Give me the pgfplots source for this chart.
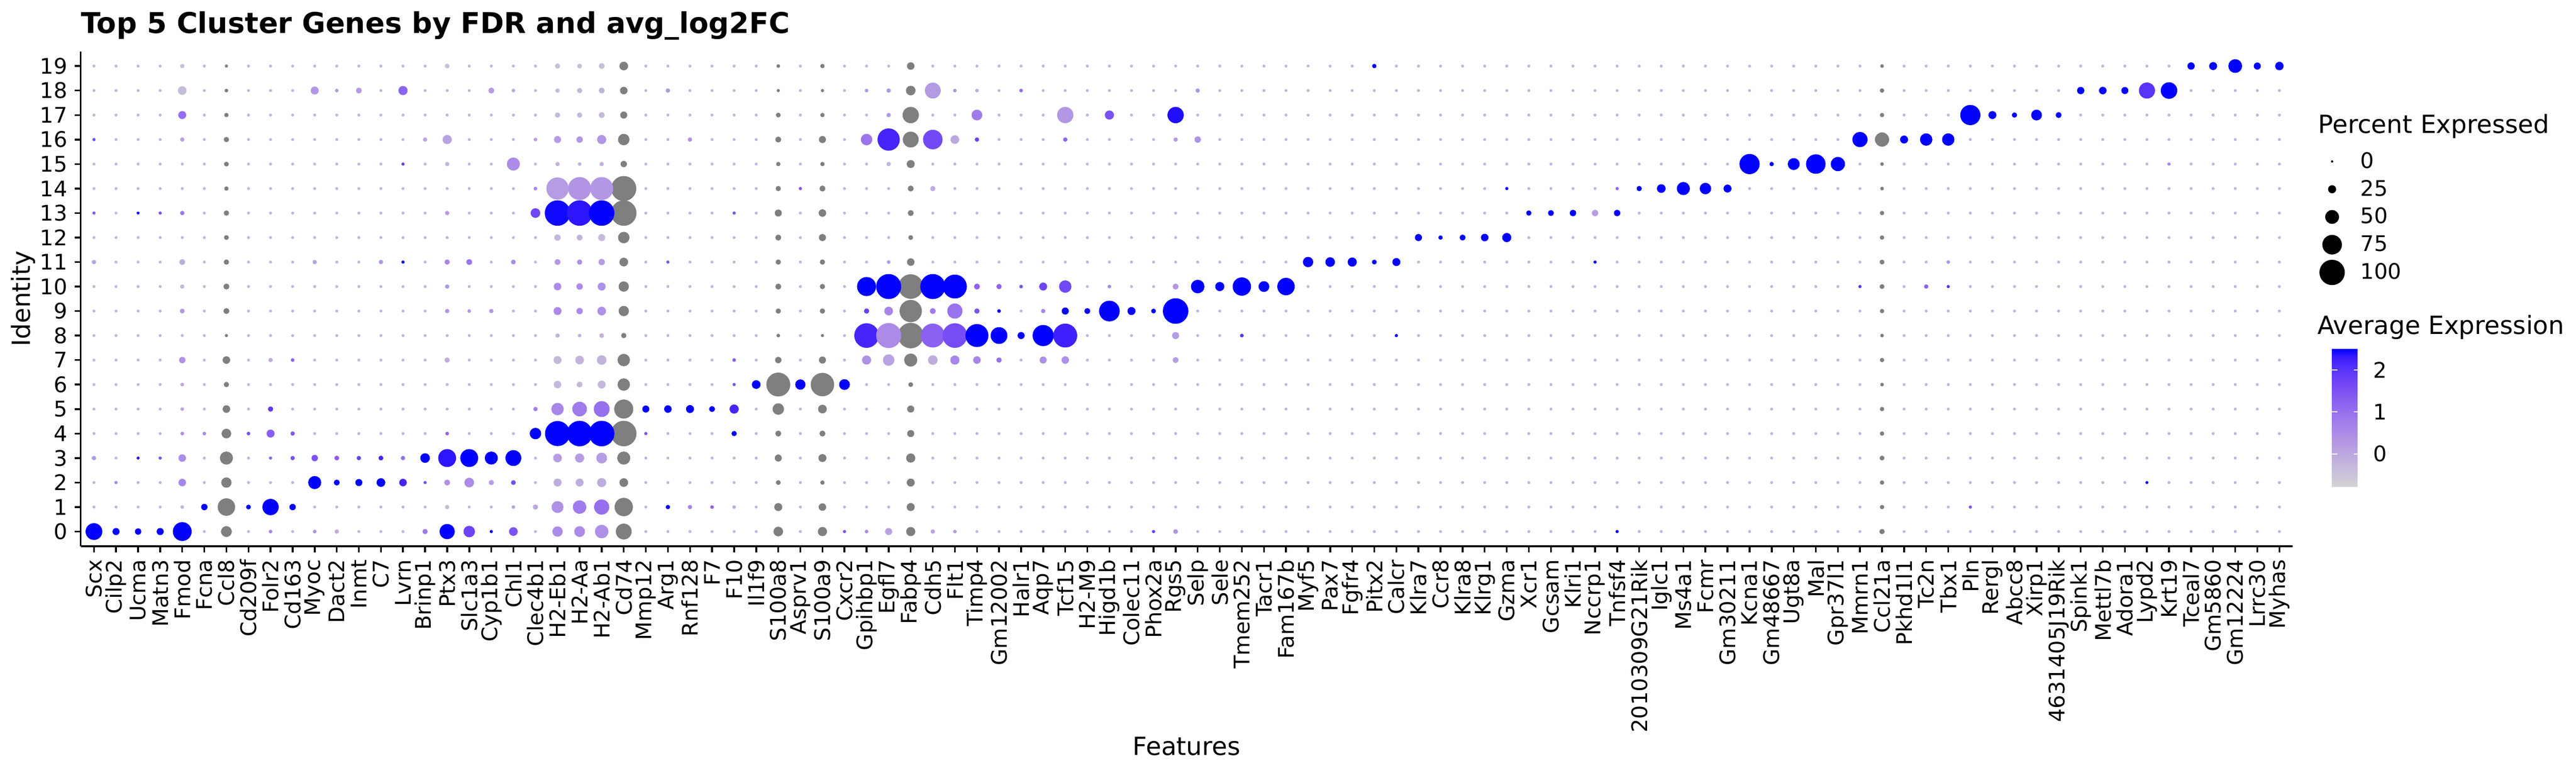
\documentclass[border=0pt]{standalone}
\usepackage{fontspec}
\setmainfont{DejaVu Sans}
\usepackage{pgfplots}
\usepackage{pgfplotstable}
\pgfplotsset{compat=1.18}
\pgfplotsset{/pgf/number format/assume math mode=true}

\definecolor{grey50}{RGB}{127,127,127}
\definecolor{bgdot}{RGB}{195,180,222}

\newcommand{\tickfont}{\fontsize{12bp}{14bp}\selectfont}
\newcommand{\labfont}{\fontsize{14bp}{17bp}\selectfont}

% gene positions on the x axis, with ~0 % expressed as the background level
\pgfplotstableread[row sep=\\]{g p\\1 0\\2 0\\3 0\\4 0\\5 0\\6 0\\7 0\\8 0\\9 0\\10 0\\11 0\\12 0\\13 0\\14 0\\15 0\\16 0\\17 0\\18 0\\19 0\\20 0\\21 0\\22 0\\23 0\\24 0\\25 0\\26 0\\27 0\\28 0\\29 0\\30 0\\31 0\\32 0\\33 0\\34 0\\35 0\\36 0\\37 0\\38 0\\39 0\\40 0\\41 0\\42 0\\43 0\\44 0\\45 0\\46 0\\47 0\\48 0\\49 0\\50 0\\51 0\\52 0\\53 0\\54 0\\55 0\\56 0\\57 0\\58 0\\59 0\\60 0\\61 0\\62 0\\63 0\\64 0\\65 0\\66 0\\67 0\\68 0\\69 0\\70 0\\71 0\\72 0\\73 0\\74 0\\75 0\\76 0\\77 0\\78 0\\79 0\\80 0\\81 0\\82 0\\83 0\\84 0\\85 0\\86 0\\87 0\\88 0\\89 0\\90 0\\91 0\\92 0\\93 0\\94 0\\95 0\\96 0\\97 0\\98 0\\99 0\\100 0\\}\genetab

% gene, cluster, percent expressed, average expression (scaled)
\pgfplotstableread{
g c p e
1 0 61 2.5
1 3 7 0.3
1 11 7 0.1
1 13 2 1.4
1 16 2 1.6
2 0 19 2.5
2 2 2 0.6
3 0 16 2.5
3 3 1 2.4
3 13 1 2.4
4 0 19 2.5
4 3 2 1.5
4 13 2 1.5
5 0 70 2.5
5 1 4 -0.2
5 2 21 0.6
5 3 21 0.45
5 4 4 0.5
5 5 4 0.0
5 6 4 0.0
5 7 16 0.4
5 9 9 0.3
5 10 7 -0.3
5 11 14 -0.1
5 13 7 0.9
5 16 7 0.1
5 17 23 1.0
5 18 26 -0.35
5 19 7 -0.4
6 1 16 2.5
6 4 4 0.5
8 1 9 2.5
8 4 4 1.5
9 0 4 0.6
9 1 59 2.5
9 3 2 1.2
9 4 23 1.3
9 5 11 1.9
9 7 7 -0.1
10 1 16 2.5
10 3 7 1.5
10 4 7 1.4
10 7 4 1.2
11 0 4 0.4
11 2 45 2.5
11 3 16 1.5
11 11 7 0.1
11 18 23 0.3
12 0 7 -0.1
12 2 14 2.5
12 3 9 1.3
12 18 4 0.2
13 2 19 2.5
13 3 7 1.8
13 18 14 0.2
14 2 26 2.5
14 3 9 2.2
14 11 7 0.3
15 2 21 2.2
15 3 7 1.0
15 11 2 2.5
15 15 2 1.8
15 18 28 1.2
16 0 11 0.8
16 2 2 1.5
16 3 30 2.5
16 16 7 0.0
17 0 54 2.5
17 1 7 -0.3
17 2 14 0.4
17 3 66 2.35
17 4 4 1.2
17 7 11 -0.1
17 9 7 0.3
17 10 7 0.3
17 11 11 0.6
17 13 7 0.2
17 15 7 -0.2
17 16 28 0.1
17 19 9 -0.4
18 0 38 1.75
18 2 30 0.5
18 3 66 2.5
18 9 4 0.3
18 11 14 0.9
19 0 2 2.5
19 2 11 0.2
19 3 45 2.5
19 9 7 0.3
19 18 14 0.2
20 0 26 1.5
20 1 4 0.0
20 2 9 1.6
20 3 57 2.5
20 11 9 0.5
20 15 45 0.5
20 18 4 0.0
21 1 11 0.0
21 4 38 2.5
21 5 7 0.8
21 13 30 1.7
21 14 4 0.6
21 16 4 0.2
22 0 33 0.5
22 1 40 0.4
22 2 23 -0.1
22 3 26 0.2
22 4 97 2.5
22 5 42 0.6
22 6 21 -0.3
22 7 23 -0.3
22 8 7 -0.2
22 9 23 0.5
22 10 21 0.5
22 11 14 0.3
22 12 16 -0.3
22 13 99 2.45
22 14 85 0.2
22 15 7 -0.2
22 16 19 0.2
22 17 11 -0.3
22 18 7 -0.3
22 19 11 -0.4
23 0 35 0.5
23 1 47 0.8
23 2 23 -0.1
23 3 28 0.2
23 4 99 2.5
23 5 52 0.8
23 6 14 -0.3
23 7 26 -0.2
23 8 4 -0.2
23 9 16 0.5
23 10 16 0.5
23 11 11 0.4
23 12 14 -0.2
23 13 99 2.35
23 14 88 0.35
23 15 4 -0.2
23 16 16 0.3
23 17 11 -0.3
23 18 11 -0.3
23 19 9 -0.4
24 0 47 0.4
24 1 54 1.0
24 2 28 -0.1
24 3 35 0.2
24 4 99 2.5
24 5 57 1.0
24 6 23 -0.3
24 7 30 -0.2
24 8 9 -0.2
24 9 26 0.4
24 10 23 0.4
24 11 16 0.2
24 12 19 -0.3
24 13 99 2.5
24 14 88 0.3
24 15 7 -0.2
24 16 28 0.3
24 17 14 -0.3
24 18 14 -0.2
24 19 14 -0.4
26 4 2 1.5
26 5 19 2.5
27 1 7 2.5
27 5 21 2.5
27 11 2 1.5
27 18 7 0.3
28 1 7 0.6
28 5 23 2.5
28 16 7 0.4
29 1 4 1.2
29 5 14 2.5
30 1 4 -0.1
30 4 11 2.5
30 5 28 2.2
30 6 2 1.5
30 7 4 1.3
30 13 2 1.5
31 6 26 2.5
33 6 33 2.5
33 14 2 1.5
35 0 2 1.5
35 6 35 2.5
36 0 4 0.5
36 7 28 0.4
36 8 95 2.2
36 9 11 1.8
36 10 71 2.5
36 16 38 0.9
36 18 4 0.3
37 0 19 0.1
37 7 38 0.1
37 8 97 0.5
37 9 26 0.6
37 10 97 2.5
37 11 4 0.3
37 15 7 -0.2
37 16 85 2.2
37 17 7 0.3
37 18 7 0.3
39 0 7 0.1
39 7 30 -0.1
39 8 92 1.25
39 9 14 0.8
39 10 97 2.5
39 14 11 -0.1
39 16 73 1.65
39 18 57 0.25
40 0 4 0.2
40 7 28 0.6
40 8 95 1.6
40 9 54 0.95
40 10 92 2.5
40 16 26 0.0
40 18 4 0.3
41 7 21 0.6
41 8 88 2.5
41 9 11 1.5
41 10 14 1.2
41 16 7 1.8
41 17 35 0.8
41 18 4 -0.1
42 7 11 1.0
42 8 61 2.5
42 9 4 2.5
42 10 11 1.2
43 8 19 2.5
43 10 4 1.5
43 18 4 1.0
44 7 19 0.4
44 8 80 2.5
44 9 7 0.6
44 10 23 1.7
45 7 21 0.4
45 8 92 2.25
45 9 19 2.5
45 10 42 1.65
45 16 7 1.2
45 17 59 0.3
46 9 14 2.5
47 9 78 2.5
47 10 4 0.5
47 17 28 1.5
48 9 23 2.5
49 0 2 1.8
49 9 9 2.5
50 0 9 0.3
50 7 14 0.2
50 8 19 0.2
50 9 99 2.5
50 10 14 0.3
50 16 7 0.2
50 17 59 2.4
51 10 47 2.5
51 16 16 0.4
51 18 7 0.3
52 10 28 2.5
53 8 4 2.0
53 10 68 2.5
54 10 35 2.5
55 10 64 2.5
56 11 33 2.5
57 11 30 2.5
58 11 28 2.5
59 11 9 2.5
59 19 7 2.5
60 8 2 2.5
60 11 23 2.5
61 12 19 2.5
62 12 7 2.5
63 12 14 2.5
64 12 21 2.5
65 12 28 2.5
65 14 2 2.5
66 13 11 2.5
67 13 14 2.5
68 13 16 2.5
69 11 2 2.5
69 13 16 0.15
70 0 2 2.5
70 13 16 2.5
70 14 2 1.2
71 14 11 2.5
72 14 26 2.5
73 14 45 2.5
74 14 38 2.5
75 14 23 2.5
76 15 76 2.5
77 15 7 2.5
78 15 40 2.5
79 15 73 2.5
80 15 50 2.5
81 10 2 2.0
81 16 54 2.5
83 16 23 2.5
84 10 7 1.2
84 16 42 2.5
85 10 2 2.0
85 11 4 0.3
85 16 42 2.5
86 1 2 1.5
86 17 76 2.5
87 17 23 2.5
88 17 11 2.5
89 17 35 2.5
90 17 14 2.5
91 18 20 2.5
92 18 21 2.5
93 18 19 2.5
94 2 1 2.5
94 18 58 2.0
95 15 2 0.6
95 18 60 2.5
96 19 20 2.5
97 19 23 2.5
98 19 48 2.5
99 19 19 2.5
100 19 25 2.5
}\dottab

% dots drawn in grey (outside the colour scale)
\pgfplotstableread{
g c p
7 0 35
7 1 64
7 2 33
7 3 45
7 4 30
7 5 21
7 6 11
7 7 21
7 8 2
7 9 14
7 10 14
7 11 11
7 12 9
7 13 11
7 14 7
7 15 9
7 16 11
7 17 7
7 18 4
7 19 2
25 0 57
25 1 68
25 2 26
25 3 45
25 4 99
25 5 71
25 6 42
25 7 42
25 8 11
25 9 33
25 10 33
25 11 26
25 12 38
25 13 99
25 14 97
25 15 16
25 16 38
25 17 19
25 18 21
25 19 26
32 0 30
32 1 23
32 2 9
32 3 19
32 4 14
32 5 38
32 6 92
32 7 16
32 8 4
32 9 11
32 10 14
32 11 11
32 12 14
32 13 19
32 14 11
32 15 7
32 16 14
32 17 9
32 18 2
32 19 4
34 0 28
34 1 21
34 2 7
34 3 23
34 4 14
34 5 26
34 6 90
34 7 19
34 8 2
34 9 11
34 10 11
34 11 11
34 12 19
34 13 21
34 14 14
34 15 7
34 16 19
34 17 7
34 18 2
34 19 7
38 0 28
38 1 23
38 2 23
38 3 28
38 4 19
38 5 19
38 6 9
38 7 45
38 8 99
38 9 85
38 10 95
38 11 21
38 12 9
38 13 14
38 14 14
38 15 23
38 16 57
38 17 59
38 18 30
38 19 21
82 0 11
82 1 7
82 2 7
82 3 9
82 4 7
82 5 7
82 6 4
82 7 7
82 8 4
82 9 7
82 10 9
82 11 9
82 12 7
82 13 7
82 14 4
82 15 4
82 16 50
82 17 7
82 18 7
82 19 4
}\greytab

\begin{document}
\begin{tikzpicture}
\path[use as bounding box] (-45.12bp,-126.72bp) rectangle (1394.88bp,305.28bp);
\begin{axis}[
  name=ax, at={(0,0)}, anchor=south west,
  scale only axis, width=1236.48bp, height=276.58bp,
  xmin=0.4, xmax=100.6, ymin=-0.6, ymax=19.6,
  axis lines*=left,
  axis line style={line width=1bp, black},
  tick align=outside, major tick length=3.4bp,
  tick style={line width=1bp, black},
  xtick={1,...,100}, ytick={0,...,19},
  xticklabels={Scx,Cilp2,Ucma,Matn3,Fmod,Fcna,Ccl8,Cd209f,Folr2,Cd163,
    Myoc,Dact2,Inmt,C7,Lvrn,Brinp1,Ptx3,Slc1a3,Cyp1b1,Chl1,
    Clec4b1,H2-Eb1,H2-Aa,H2-Ab1,Cd74,Mmp12,Arg1,Rnf128,F7,F10,
    Il1f9,S100a8,Asprv1,S100a9,Cxcr2,Gpihbp1,Egfl7,Fabp4,Cdh5,Flt1,
    Timp4,Gm12002,Halr1,Aqp7,Tcf15,H2-M9,Higd1b,Colec11,Phox2a,Rgs5,
    Selp,Sele,Tmem252,Tacr1,Fam167b,Myf5,Pax7,Fgfr4,Pitx2,Calcr,
    Klra7,Ccr8,Klra8,Klrg1,Gzma,Xcr1,Gcsam,Klri1,Nccrp1,Tnfsf4,
    2010309G21Rik,Iglc1,Ms4a1,Fcmr,Gm30211,Kcna1,Gm48667,Ugt8a,Mal,Gpr37l1,
    Mmrn1,Ccl21a,Pkhd1l1,Tc2n,Tbx1,Pln,Rergl,Abcc8,Xirp1,4631405J19Rik,
    Spink1,Mettl7b,Adora1,Lypd2,Krt19,Tceal7,Gm5860,Gm12224,Lrrc30,Myhas},
  xticklabel style={rotate=90, anchor=east, inner sep=0pt, font=\tickfont},
  yticklabel style={anchor=east, inner sep=0pt, font=\tickfont},
  xticklabel shift=3.9bp, yticklabel shift=3.9bp,
  title={Top 5 Cluster Genes by FDR and avg\_log2FC},
  every axis title shift=0pt,
  title style={at={(0,1)}, anchor=base west, yshift=10.2bp, inner sep=0pt,
    font=\bfseries\fontsize{16bp}{19bp}\selectfont},
  xlabel={Features},
  xlabel style={at={(axis description cs:0.5,0)}, anchor=base, yshift=-116.64bp,
    inner sep=0pt, font=\labfont},
  ylabel={Identity},
  ylabel style={at={(axis description cs:0,0.5)}, anchor=center, yshift=32.26bp,
    inner sep=0pt, font=\labfont},
  clip=false,
  colormap={dotmap}{rgb255(0cm)=(211,211,211) rgb255(2cm)=(200,188,218)
    rgb255(4cm)=(187,165,224) rgb255(6cm)=(173,142,230) rgb255(8cm)=(157,119,236)
    rgb255(10cm)=(137,96,241) rgb255(12cm)=(113,71,245) rgb255(14cm)=(82,45,251)
    rgb255(15cm)=(58,28,253) rgb255(16cm)=(0,0,255)},
  point meta min=-0.78, point meta max=2.51,
  colorbar,
  colorbar style={
    at={(parent axis.north east)}, anchor=north west,
    xshift=13.44bp, yshift=-166.06bp,
    scale only axis, width=15.4bp, height=77.2bp,
    ytick={0,1,2},
    tick align=inside, major tick length=3.1bp,
    ytick pos=both, yticklabel pos=right,
    tick style={white, line width=0.6bp},
    axis line style={draw=none},
    yticklabel style={anchor=west, inner sep=0pt, font=\tickfont},
    yticklabel shift=7.44bp,
  },
  legend cell align=left,
  legend style={at={(1,1)}, anchor=north west, xshift=14.08bp, yshift=-53.8bp,
    draw=none, fill=none, inner sep=0pt, outer sep=0pt,
    column sep=7.84bp, row sep=0pt,
    nodes={inner sep=0pt, font=\tickfont}},
]
\addlegendimage{legend image code/.code={\path[draw=none,fill=none] (-8bp,-7.75bp) rectangle (8bp,7.75bp);\fill[black,draw=none] (0,0) circle[radius=0.648bp];}}
\addlegendentry{0}
\addlegendimage{legend image code/.code={\path[draw=none,fill=none] (-8bp,-7.75bp) rectangle (8bp,7.75bp);\fill[black,draw=none] (0,0) circle[radius=2.26bp];}}
\addlegendentry{25}
\addlegendimage{legend image code/.code={\path[draw=none,fill=none] (-8bp,-7.75bp) rectangle (8bp,7.75bp);\fill[black,draw=none] (0,0) circle[radius=3.87bp];}}
\addlegendentry{50}
\addlegendimage{legend image code/.code={\path[draw=none,fill=none] (-8bp,-7.75bp) rectangle (8bp,7.75bp);\fill[black,draw=none] (0,0) circle[radius=5.48bp];}}
\addlegendentry{75}
\addlegendimage{legend image code/.code={\path[draw=none,fill=none] (-8bp,-7.75bp) rectangle (8bp,7.75bp);\fill[black,draw=none] (0,0) circle[radius=7.09bp];}}
\addlegendentry{100}

% faint dots at every gene / cluster pair (about 0 % expressed)
\pgfplotsinvokeforeach{0,...,19}{
  \addplot[only marks, mark=*, mark size=0.62bp, color=bgdot, forget plot]
    table[x=g, y expr=#1] {\genetab};
}

% grey dots
\addplot[scatter, only marks, mark=*, forget plot,
  point meta=\thisrow{p},
  scatter/use mapped color={draw=grey50, fill=grey50},
  visualization depends on={0.648+0.06444*\thisrow{p} \as \dotr},
  scatter/@pre marker code/.append style={/tikz/mark size=\dotr bp},
  mark options={line width=0.2bp}]
  table[x=g, y=c] {\greytab};

% coloured dots
\addplot[scatter, only marks, mark=*, forget plot,
  point meta=\thisrow{e},
  scatter/use mapped color={draw=mapped color, fill=mapped color},
  visualization depends on={0.648+0.06444*\thisrow{p} \as \dotr},
  scatter/@pre marker code/.append style={/tikz/mark size=\dotr bp},
  mark options={line width=0.2bp}]
  table[x=g, y=c] {\dottab};
\end{axis}
\node[anchor=base west, inner sep=0pt, font=\labfont] at (1250.6bp,230.88bp) {Percent Expressed};
\node[anchor=base west, inner sep=0pt, font=\labfont] at (1250.2bp,118.56bp) {Average Expression};
\end{tikzpicture}
\end{document}
